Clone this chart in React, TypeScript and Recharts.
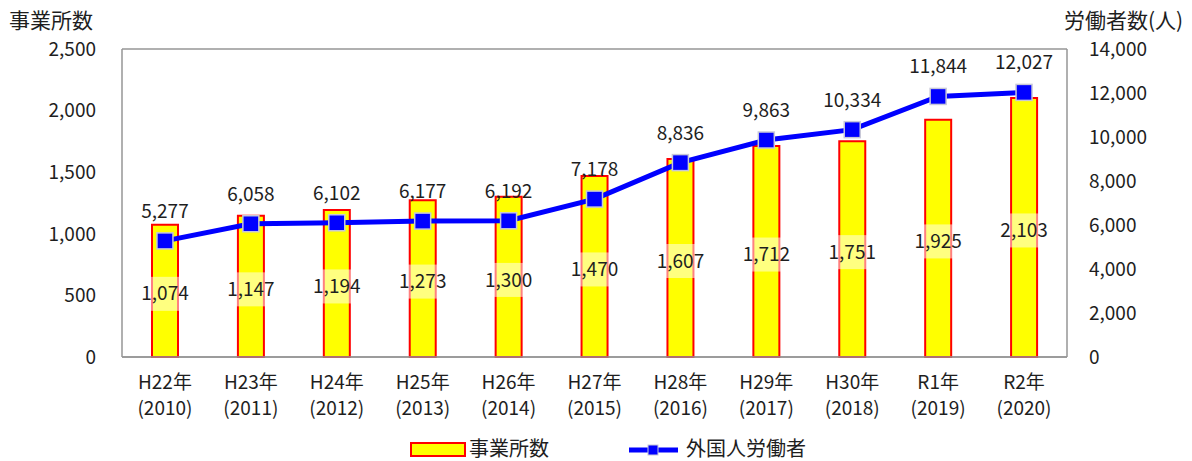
import React from 'react';
import { ComposedChart, Bar, Line, XAxis, YAxis, CartesianGrid, LabelList } from 'recharts';

const categories = ['H22年', 'H23年', 'H24年', 'H25年', 'H26年', 'H27年', 'H28年', 'H29年', 'H30年', 'R1年', 'R2年'];
const years = ['(2010)', '(2011)', '(2012)', '(2013)', '(2014)', '(2015)', '(2016)', '(2017)', '(2018)', '(2019)', '(2020)'];
const establishments = [1074, 1147, 1194, 1273, 1300, 1470, 1607, 1712, 1751, 1925, 2103];
const workers = [5277, 6058, 6102, 6177, 6192, 7178, 8836, 9863, 10334, 11844, 12027];
const leftTicks = [0, 500, 1000, 1500, 2000, 2500];
const rightTicks = [0, 2000, 4000, 6000, 8000, 10000, 12000, 14000];

const data = categories.map((c, i) => ({ cat: c, year: years[i], est: establishments[i], wk: workers[i] }));

const FONT = '"Noto Sans CJK JP", "Noto Sans", sans-serif';
const TXT = '#1e1e1e';
const FS = 19;
const fmt = (v: number) => v.toLocaleString('en-US');

const XTick = (props: any) => {
  const { x, y, payload, index } = props;
  return (
    <g>
      <text x={x} y={y + 24} textAnchor="middle" fontSize={FS} fill={TXT} fontFamily={FONT}>{payload.value}</text>
      <text x={x} y={y + 50} textAnchor="middle" fontSize={FS} fill={TXT} fontFamily={FONT}>{years[index]}</text>
    </g>
  );
};

const BarLabel = (props: any) => {
  const { x, y, width, height, value } = props;
  const cx = x + width / 2;
  const cy = y + height / 2 + 3;
  return (
    <g>
      <rect x={cx - 33} y={cy - 17} width={66} height={34} fill="#ffffff" fillOpacity={0.5} />
      <text x={cx} y={cy} dy="0.35em" textAnchor="middle" fontSize={FS} fill={TXT} fontFamily={FONT}>{fmt(value)}</text>
    </g>
  );
};

const LineLabel = (props: any) => {
  const { x, y, value } = props;
  return (
    <text x={x} y={y - 23} textAnchor="middle" fontSize={FS} fill={TXT} fontFamily={FONT}>{fmt(value)}</text>
  );
};

const SquareDot = (props: any) => {
  const { cx, cy, index } = props;
  if (cx == null || cy == null) return null;
  return <rect key={index} x={cx - 8} y={cy - 8} width={16} height={16} fill="#0000ff" stroke="#c8c8d8" strokeWidth={1.5} />;
};

export default function App() {
  return (
    <div style={{ position: 'absolute', left: 0, top: 0, width: 1192, height: 461, background: '#fff', fontFamily: FONT }}>
      <ComposedChart width={1192} height={461} data={data} margin={{ top: 49, right: 0, bottom: 0, left: 0 }}>
        <CartesianGrid vertical={false} stroke="#969696" strokeWidth={1.5} />
        <XAxis dataKey="cat" height={104} tick={<XTick />} tickLine={false} axisLine={{ stroke: '#969696', strokeWidth: 1.5 }} interval={0} />
        <YAxis yAxisId="left" width={122} domain={[0, 2500]} ticks={leftTicks} tickFormatter={fmt} tickLine={false} tickSize={0} tickMargin={26}
          axisLine={{ stroke: '#969696', strokeWidth: 1.5 }} tick={{ fontSize: FS, fill: TXT, fontFamily: FONT }} />
        <YAxis yAxisId="right" orientation="right" width={125} domain={[0, 14000]} ticks={rightTicks} tickFormatter={fmt} tickLine={false} tickSize={0} tickMargin={22}
          axisLine={{ stroke: '#969696', strokeWidth: 1.5 }} tick={{ fontSize: FS, fill: TXT, fontFamily: FONT, textAnchor: 'start' }} />
        <Bar yAxisId="left" dataKey="est" fill="#ffff00" stroke="#ff0000" strokeWidth={2} barSize={26} isAnimationActive={false}>
          <LabelList dataKey="est" content={<BarLabel />} />
        </Bar>
        <Line yAxisId="right" dataKey="wk" stroke="#0000ff" strokeWidth={5} dot={<SquareDot />} activeDot={false} isAnimationActive={false}>
          <LabelList dataKey="wk" content={<LineLabel />} />
        </Line>
        <text x={9} y={28} fontSize={21} fill={TXT} fontFamily={FONT}>事業所数</text>
        <text x={1064} y={28} fontSize={21} fill={TXT} fontFamily={FONT}>労働者数(人)</text>
        <g>
          <rect x={411} y={443} width={54} height={13} fill="#ffff00" stroke="#ff0000" strokeWidth={2} />
          <text x={469} y={449} dy="0.35em" fontSize={20} fill={TXT} fontFamily={FONT}>事業所数</text>
          <line x1={629} y1={450} x2={678} y2={450} stroke="#0000ff" strokeWidth={5} />
          <rect x={648} y={445} width={10} height={10} fill="#0000ff" stroke="#c8c8d8" strokeWidth={1} />
          <text x={686} y={449} dy="0.35em" fontSize={20} fill={TXT} fontFamily={FONT}>外国人労働者</text>
        </g>
      </ComposedChart>
    </div>
  );
}
